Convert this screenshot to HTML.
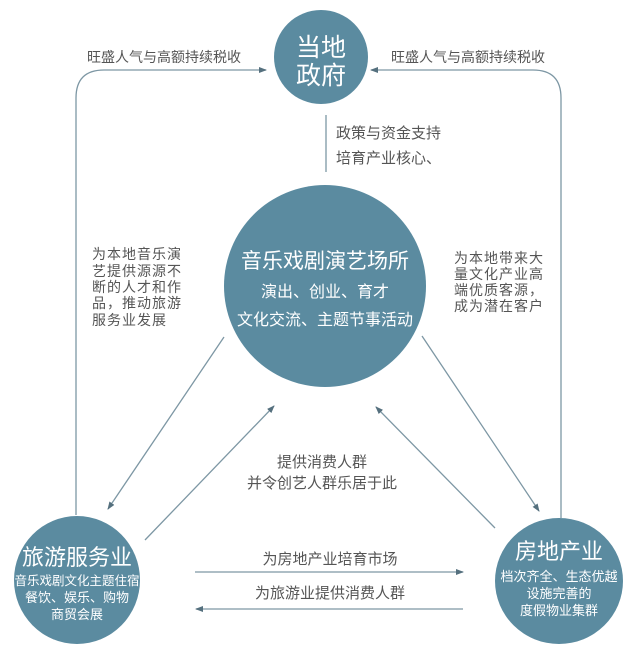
<!DOCTYPE html>
<html><head><meta charset="utf-8"><style>
html,body{margin:0;padding:0;background:#fff;}
svg{display:block;}
text{font-family:"Liberation Sans","Noto Sans CJK SC",sans-serif;}
</style></head><body>
<svg width="640" height="669" viewBox="0 0 640 669" xmlns="http://www.w3.org/2000/svg">
<defs>
<marker id="a" markerWidth="8" markerHeight="8" refX="7" refY="4" orient="auto" markerUnits="userSpaceOnUse">
<path d="M0,1 L8,4 L0,7 Z" fill="#55707e"/></marker>
</defs>
<g stroke="#7d97a4" stroke-width="1.3" fill="none">
<path d="M76,515 V98 Q76,70 104,70 H266" marker-end="url(#a)"/>
<path d="M561,518 V98 Q561,70 533,70 H371" marker-end="url(#a)"/>
<line x1="326" y1="115" x2="326" y2="172"/>
<line x1="224" y1="337" x2="108" y2="509" marker-end="url(#a)"/>
<line x1="145" y1="540" x2="274" y2="406" marker-end="url(#a)"/>
<line x1="495" y1="528" x2="376" y2="407" marker-end="url(#a)"/>
<line x1="422" y1="336" x2="539" y2="511" marker-end="url(#a)"/>
<line x1="195" y1="572" x2="463" y2="572" marker-end="url(#a)"/>
<line x1="463" y1="609" x2="196" y2="609" marker-end="url(#a)"/>
</g>
<g fill="#5b8ba0">
<circle cx="321" cy="57" r="47"/>
<circle cx="325" cy="286" r="101"/>
<ellipse cx="77" cy="580" rx="63" ry="64"/>
<ellipse cx="559" cy="581" rx="64" ry="63"/>
</g>
<g fill="#fff" text-anchor="middle">
<text x="321" y="56" font-size="25">当地</text>
<text x="321" y="84" font-size="25">政府</text>
<text x="325" y="268" font-size="21">音乐戏剧演艺场所</text>
<text x="325" y="297" font-size="16">演出、创业、育才</text>
<text x="325" y="325" font-size="16">文化交流、主题节事活动</text>
<text x="77" y="565" font-size="22">旅游服务业</text>
<text x="77" y="585" font-size="12.5">音乐戏剧文化主题住宿</text>
<text x="77" y="602" font-size="13">餐饮、娱乐、购物</text>
<text x="77" y="619" font-size="13">商贸会展</text>
<text x="559" y="559" font-size="22">房地产业</text>
<text x="559" y="581" font-size="13">档次齐全、生态优越</text>
<text x="559" y="598" font-size="13">设施完善的</text>
<text x="559" y="615" font-size="13">度假物业集群</text>
</g>
<g fill="#555" font-size="14">
<text x="87" y="62">旺盛人气与高额持续税收</text>
<text x="391" y="62">旺盛人气与高额持续税收</text>
<text x="336" y="138" font-size="15">政策与资金支持</text>
<text x="336" y="163" font-size="15">培育产业核心、</text>
<text x="92" y="259" letter-spacing="1">为本地音乐演</text>
<text x="92" y="276" letter-spacing="1">艺提供源源不</text>
<text x="92" y="292" letter-spacing="1">断的人才和作</text>
<text x="92" y="308" letter-spacing="1">品，推动旅游</text>
<text x="92" y="325" letter-spacing="1">服务业发展</text>
<text x="454" y="263" letter-spacing="1">为本地带来大</text>
<text x="454" y="279" letter-spacing="1">量文化产业高</text>
<text x="454" y="295" letter-spacing="1">端优质客源，</text>
<text x="454" y="311" letter-spacing="1">成为潜在客户</text>
<g text-anchor="middle" font-size="15">
<text x="322" y="467">提供消费人群</text>
<text x="322" y="488">并令创艺人群乐居于此</text>
<text x="330" y="564">为房地产业培育市场</text>
<text x="330" y="598">为旅游业提供消费人群</text>
</g>
</g>
</svg>
</body></html>
